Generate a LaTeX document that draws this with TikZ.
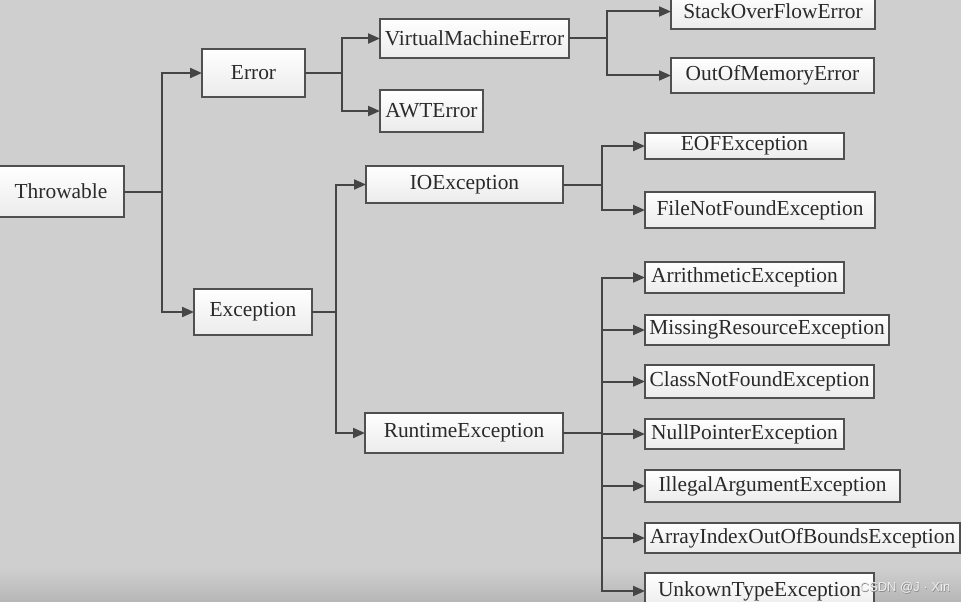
\documentclass[tikz,border=0pt]{standalone}
\usepackage{fontspec}
\setmainfont{Liberation Serif}
\newfontfamily\wmfont{Liberation Sans}
\usetikzlibrary{arrows.meta}
\definecolor{bgc}{HTML}{CFCFCF}
\definecolor{bgd}{HTML}{B6B6B6}
\definecolor{linec}{HTML}{454545}
\definecolor{boxline}{HTML}{505050}
\definecolor{txtc}{HTML}{2A2A2A}
\definecolor{boxbot}{HTML}{EBEBEB}
\definecolor{wmc}{HTML}{EEEEEE}
\definecolor{wms}{HTML}{8A8A8A}
\tikzset{
  jb/.style={draw=boxline, line width=1.6pt, top color=white, bottom color=boxbot,
    inner sep=0pt, outer sep=0pt, text=txtc,
    font=\fontsize{21.4}{24}\selectfont},
  conn/.style={draw=linec, line width=2pt},
  arr/.style={conn, -{Triangle[length=12pt,width=10pt]}},
  wm/.style={inner sep=0pt, font=\wmfont\fontsize{13}{15}\selectfont},
}
\newcommand\jbox[6]{%
  \pgfmathsetmacro\jw{#4-#2}\pgfmathsetmacro\jh{#5-#3}%
  \pgfmathsetmacro\jx{(#2+#4)/2}\pgfmathsetmacro\jy{(#3+#5)/2}%
  \node[jb,minimum width=\jw pt,minimum height=\jh pt] (#1) at (\jx,\jy) {#6};}
\begin{document}
\begin{tikzpicture}[x=1pt,y=-1pt]
\useasboundingbox (0,0) rectangle (961,602);
\fill[bgc] (0,0) rectangle (961,602);
\shade[top color=bgc, bottom color=bgd] (0,568) rectangle (961,602);
% boxes
\jbox{thr}{-2}{166}{124}{217}{Throwable}
\jbox{err}{202}{49}{305}{97}{Error}
\jbox{vme}{380}{19}{569}{58}{VirtualMachineError}
\jbox{awt}{380}{90}{483}{132}{AWTError}
\jbox{sof}{671}{-6}{875}{29}{StackOverFlowError}
\jbox{oom}{671}{58}{874}{93}{OutOfMemoryError}
\jbox{exc}{194}{289}{312}{335}{Exception}
\jbox{ioe}{366}{166}{563}{203}{IOException}
\jbox{rte}{365}{413}{563}{453}{RuntimeException}
\jbox{eof}{645}{133}{844}{159}{EOFException}
\jbox{fnf}{645}{192}{875}{228}{FileNotFoundException}
\jbox{ari}{645}{262}{844}{293}{ArrithmeticException}
\jbox{mis}{645}{315}{889}{345}{MissingResourceException}
\jbox{cnf}{645}{365}{874}{398}{ClassNotFoundException}
\jbox{npe}{645}{419}{844}{449}{NullPointerException}
\jbox{iae}{645}{470}{900}{502}{IllegalArgumentException}
\jbox{aio}{645}{523}{960}{553}{ArrayIndexOutOfBoundsException}
\jbox{ukt}{645}{573}{874}{609}{UnkownTypeException}
% trunks
\coordinate (t1) at (162,191.5);
\coordinate (t2) at (342,73);
\coordinate (t3) at (607,38.5);
\coordinate (t4) at (336,312);
\coordinate (t5) at (602,184.5);
\coordinate (t6) at (602,433);
\draw[conn] (thr.east) -- (t1);
\draw[arr] (t1) |- (err.west);
\draw[arr] (t1) |- (exc.west);
\draw[conn] (err.east) -- (t2);
\draw[arr] (t2) |- (vme.west);
\draw[arr] (t2) |- (awt.west);
\draw[conn] (vme.east) -- (t3);
\draw[arr] (t3) |- (sof.west);
\draw[arr] (t3) |- (oom.west);
\draw[conn] (exc.east) -- (t4);
\draw[arr] (t4) |- (ioe.west);
\draw[arr] (t4) |- (rte.west);
\draw[conn] (ioe.east) -- (t5);
\draw[arr] (t5) |- (eof.west);
\draw[arr] (t5) |- (fnf.west);
\draw[conn] (rte.east) -- (t6);
\foreach \c in {ari,mis,cnf,npe,iae,aio,ukt}{\draw[arr] (t6) |- (\c.west);}
% watermark
\node[wm, text=wms] at (905.6,588.6) {CSDN @J · Xin};
\node[wm, text=wmc] (wmk) at (905,588) {CSDN @J · Xin};
\end{tikzpicture}
\end{document}
